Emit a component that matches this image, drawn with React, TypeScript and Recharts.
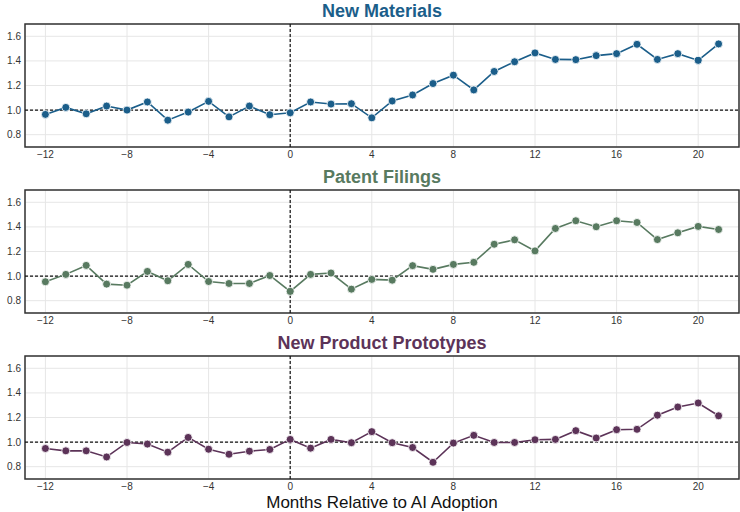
import React from 'react';
import {
  LineChart,
  Line,
  XAxis,
  YAxis,
  CartesianGrid,
  ReferenceLine,
  ReferenceArea
} from 'recharts';

const months = [
  -12, -11, -10, -9, -8, -7, -6, -5, -4, -3, -2, -1, 0, 1, 2, 3, 4,
  5, 6, 7, 8, 9, 10, 11, 12, 13, 14, 15, 16, 17, 18, 19, 20, 21
];

const newMaterials = [
  0.965, 1.022, 0.97, 1.033, 1.0, 1.066, 0.918, 0.984, 1.071, 0.945, 1.033, 0.962,
  0.978, 1.066, 1.049, 1.052, 0.937, 1.074, 1.123, 1.216, 1.284, 1.164, 1.314,
  1.393, 1.465, 1.412, 1.41, 1.443, 1.459, 1.535, 1.412, 1.459, 1.404, 1.538
];

const patentFilings = [
  0.954, 1.014, 1.087, 0.935, 0.926, 1.038, 0.962, 1.095, 0.956, 0.94, 0.94, 1.005,
  0.875, 1.014, 1.025, 0.894, 0.973, 0.967, 1.085, 1.055, 1.095, 1.112, 1.259,
  1.295, 1.205, 1.387, 1.45, 1.401, 1.45, 1.436, 1.297, 1.352, 1.404, 1.379
];

const prototypes = [
  0.948, 0.929, 0.929, 0.879, 0.997, 0.984, 0.918, 1.038, 0.942, 0.901, 0.926, 0.94,
  1.022, 0.951, 1.022, 0.995, 1.085, 0.995, 0.956, 0.836, 0.992, 1.055, 0.997,
  0.997, 1.019, 1.022, 1.093, 1.033, 1.101, 1.104, 1.219, 1.285, 1.318, 1.214
];

const xTicks = [-12, -8, -4, 0, 4, 8, 12, 16, 20];
const yTicks = [0.8, 1.0, 1.2, 1.4, 1.6];

const panels = [
  { title: 'New Materials', color: '#1b5e8a', values: newMaterials },
  { title: 'Patent Filings', color: '#587a60', values: patentFilings },
  { title: 'New Product Prototypes', color: '#5c3358', values: prototypes }
];

const FONT = 'Arial, "Liberation Sans", Helvetica, sans-serif';
const PANEL_H = 166;

const Panel: React.FC<{ title: string; color: string; values: number[]; top: number }> = ({
  title,
  color,
  values,
  top
}) => {
  const data = months.map((m, i) => ({ month: m, value: values[i] }));
  return (
    <div style={{ position: 'absolute', left: 0, top, width: 740, height: PANEL_H }}>
      <div
        style={{
          position: 'absolute',
          left: 25,
          width: 714,
          top: 0,
          textAlign: 'center',
          fontFamily: FONT,
          fontWeight: 'bold',
          fontSize: 18,
          lineHeight: '22px',
          color
        }}
      >
        {title}
      </div>
      <LineChart
        width={740}
        height={PANEL_H}
        data={data}
        margin={{ top: 24, right: 1, bottom: 0, left: 0 }}
        style={{ fontFamily: FONT }}
      >
        <CartesianGrid stroke="#e6e6e6" strokeWidth={1} />
        <XAxis
          dataKey="month"
          type="number"
          domain={[-13, 22]}
          ticks={xTicks}
          tickFormatter={(v: number) => (v < 0 ? '\u2212' + Math.abs(v) : String(v))}
          tick={{ fill: '#333', fontSize: 10 }}
          tickLine={false}
          axisLine={false}
          height={19}
          tickSize={3}
          tickMargin={1}
          allowDataOverflow
        />
        <YAxis
          type="number"
          domain={[0.7, 1.7]}
          ticks={yTicks}
          tickFormatter={(v: number) => v.toFixed(1)}
          tick={{ fill: '#333', fontSize: 10 }}
          tickLine={false}
          axisLine={false}
          width={25}
          tickSize={2}
          tickMargin={2}
          allowDataOverflow
        />
        <ReferenceLine y={1} stroke="#111" strokeDasharray="3 2" strokeWidth={1.2} />
        <ReferenceLine x={0} stroke="#111" strokeDasharray="3 2" strokeWidth={1.2} />
        <Line
          type="linear"
          dataKey="value"
          stroke={color}
          strokeWidth={1.6}
          dot={{ r: 4, fill: color, stroke: '#fff', strokeWidth: 0.8 }}
          isAnimationActive={false}
        />
        <ReferenceArea
          x1={-13}
          x2={22}
          y1={0.7}
          y2={1.7}
          fill="none"
          stroke="#333"
          strokeWidth={1.5}
          ifOverflow="visible"
        />
      </LineChart>
    </div>
  );
};

export default function App() {
  return (
    <div style={{ position: 'absolute', left: 0, top: 0, width: 740, height: 512, background: '#fff' }}>
      {panels.map((p, i) => (
        <Panel key={p.title} title={p.title} color={p.color} values={p.values} top={i * PANEL_H} />
      ))}
      <div
        style={{
          position: 'absolute',
          left: 25,
          width: 714,
          top: 494,
          textAlign: 'center',
          fontFamily: FONT,
          fontSize: 17,
          lineHeight: '17px',
          color: '#111'
        }}
      >
        Months Relative to AI Adoption
      </div>
    </div>
  );
}
